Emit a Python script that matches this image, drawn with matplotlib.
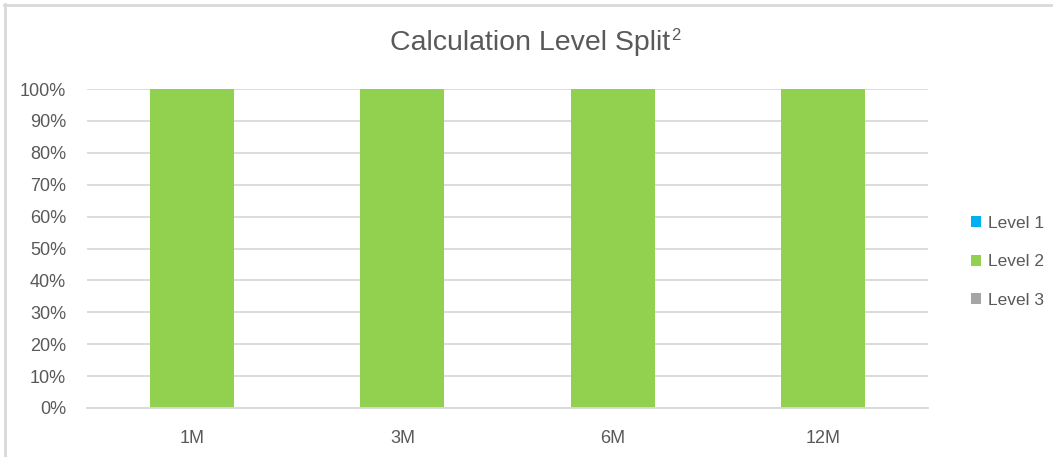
import matplotlib.pyplot as plt
from matplotlib.lines import Line2D
from matplotlib.patches import Patch

categories = ['1M', '3M', '6M', '12M']
level1 = [0, 0, 0, 0]
level2 = [100, 100, 100, 100]
level3 = [0, 0, 0, 0]
series_names = ['Level 1', 'Level 2', 'Level 3']
colors = ['#00B0F0', '#92D050', '#A5A5A5']
text_color = '#595959'

plt.rcParams['font.family'] = ['Liberation Sans', 'DejaVu Sans']

fig = plt.figure(figsize=(10.53, 4.57), dpi=100)
ax = fig.add_axes([87 / 1053, 1 - 408 / 457, (928 - 87) / 1053, (408 - 89) / 457])

# stacked bars
x = range(len(categories))
bottom = [0] * len(categories)
for vals, name, col in zip([level1, level2, level3], series_names, colors):
    ax.bar(x, vals, width=0.4, bottom=bottom, color=col, label=name, zorder=3)
    bottom = [b + v for b, v in zip(bottom, vals)]

ax.set_xlim(-0.5, len(categories) - 0.5)
ax.set_ylim(0, 100)
ax.set_yticks(range(0, 101, 10))
ax.set_yticklabels([f'{v}%' for v in range(0, 101, 10)])
ax.set_xticks(list(x))
ax.set_xticklabels(categories)
ax.yaxis.grid(True, color='#D9D9D9', linewidth=1.3, zorder=0)
ax.tick_params(axis='both', length=0, colors=text_color, labelsize=13)
ax.tick_params(axis='y', pad=15)
ax.tick_params(axis='x', pad=16)
for s in ['top', 'right', 'left']:
    ax.spines[s].set_visible(False)
ax.spines['bottom'].set_color('#D9D9D9')
ax.spines['bottom'].set_linewidth(1.3)
ax.spines['bottom'].set_zorder(4)

# title, with the superscript placed right after it
title = fig.text(530 / 1053, 1 - 43 / 457, 'Calculation Level Split', ha='center', va='center',
                 fontsize=20.5, color=text_color)
fig.canvas.draw()
bb = title.get_window_extent()
fig.text((bb.x1 + 1) / fig.bbox.width, (bb.y1 + 2) / fig.bbox.height, '2',
         fontsize=12, color=text_color, va='top', ha='left')

handles = [Patch(facecolor=c, edgecolor='none') for c in colors]
fig.legend(handles, series_names, loc='center left', bbox_to_anchor=(955 / 1053, 1 - 262 / 457),
           frameon=False, fontsize=12.5, labelcolor=text_color, handlelength=0.6, handleheight=0.6,
           handletextpad=0.4, labelspacing=1.35)

# outer chart border (top and left visible)
fig.add_artist(Line2D([4 / 1053, 1], [1 - 4.5 / 457, 1 - 4.5 / 457], color='#D9D9D9', linewidth=2))
fig.add_artist(Line2D([4.5 / 1053, 4.5 / 1053], [0, 1 - 4 / 457], color='#D9D9D9', linewidth=2))

fig.savefig('out.png', dpi=100, facecolor='white')
